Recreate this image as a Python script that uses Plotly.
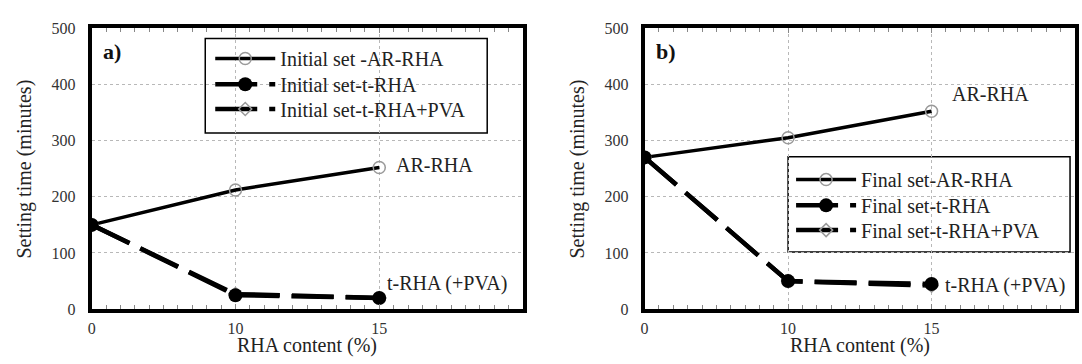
import plotly.graph_objects as go

# ---- data ----
rha_content = ["0", "10", "15"]
initial_ar_rha = [150, 212, 252]
initial_t_rha = [150, 25, 20]
initial_t_rha_pva = [150, 27, 20]
final_ar_rha = [270, 305, 352]
final_t_rha = [270, 50, 45]
final_t_rha_pva = [270, 50, 42]
y_ticks = [0, 100, 200, 300, 400, 500]

xpos = list(range(len(rha_content)))
W, H = 1082, 364
SERIF = "Liberation Serif, Times New Roman, serif"

def px_x(p):
    return p / W

def px_y(p):
    return 1 - p / H

fig = go.Figure()

# legend row centres (pixels) per panel
panels = [
    dict(xa="x", ya="y", legs=("legend", "legend2", "legend3"), leg_x=207, rows=(53, 80, 106),
         names=("Initial set -AR-RHA", "Initial set-t-RHA", "Initial set-t-RHA+PVA"),
         data=(initial_ar_rha, initial_t_rha, initial_t_rha_pva)),
    dict(xa="x2", ya="y2", legs=("legend4", "legend5", "legend6"), leg_x=790, rows=(180, 207, 233),
         names=("Final set-AR-RHA", "Final set-t-RHA", "Final set-t-RHA+PVA"),
         data=(final_ar_rha, final_t_rha, final_t_rha_pva)),
]

leg_font = dict(family=SERIF, size=20, color="#222")
legend_layouts = {}

for p in panels:
    ar, t, pva = p["data"]
    n_ar, n_t, n_pva = p["names"]
    l_ar, l_t, l_pva = p["legs"]
    fig.add_trace(go.Scatter(x=xpos, y=ar, name=n_ar, xaxis=p["xa"], yaxis=p["ya"], legend=l_ar,
                             mode="lines+markers", line=dict(color="black", width=3.5),
                             marker=dict(symbol="circle-open", size=12, color="#9a9a9a", line=dict(width=1.5))))
    fig.add_trace(go.Scatter(x=xpos, y=pva, name=n_pva, xaxis=p["xa"], yaxis=p["ya"], legend=l_pva,
                             mode="lines+markers", line=dict(color="black", width=4.5, dash="42px,12px"),
                             marker=dict(symbol="diamond-open", size=10, color="#9a9a9a", line=dict(width=1.5))))
    fig.add_trace(go.Scatter(x=xpos, y=t, name=n_t, xaxis=p["xa"], yaxis=p["ya"], legend=l_t,
                             mode="lines+markers", line=dict(color="black", width=4.5, dash="42px,12px"),
                             marker=dict(symbol="circle", size=14, color="black")))
    for leg, row in zip(p["legs"], p["rows"]):
        legend_layouts[leg] = dict(x=px_x(p["leg_x"]), y=px_y(row), xanchor="left", yanchor="middle",
                                   bgcolor="rgba(0,0,0,0)", borderwidth=0, itemwidth=60, font=leg_font)

frames = [(88, 521), (643, 1075)]
top, bottom = 21, 316

axis_common_x = dict(
    range=[0, len(rha_content)], tickmode="array", tickvals=xpos, ticktext=rha_content,
    showline=True, linecolor="black", linewidth=4, mirror="allticks",
    ticks="inside", ticklen=5, tickcolor="#888", tickwidth=1,
    minor=dict(dtick=0.1, ticks="inside", ticklen=4, tickcolor="#888", tickwidth=1, showgrid=False),
    showgrid=True, gridcolor="#b8b8b8", griddash="dot", gridwidth=1,
    zeroline=False, tickfont=dict(family=SERIF, size=16, color="#333"), ticklabelstandoff=2,
)
axis_common_y = dict(
    range=[0, 500], tickvals=y_ticks,
    showline=True, linecolor="black", linewidth=4, mirror=True,
    ticks="", showgrid=True, gridcolor="#b8b8b8", griddash="dot", gridwidth=1,
    zeroline=False, tickfont=dict(family=SERIF, size=16, color="#333"), ticklabelstandoff=9,
)

fig.update_layout(
    width=W, height=H, margin=dict(l=0, r=0, t=0, b=0),
    paper_bgcolor="white", plot_bgcolor="white",
    xaxis=dict(domain=[px_x(frames[0][0]), px_x(frames[0][1])], anchor="y", **axis_common_x),
    yaxis=dict(domain=[px_y(bottom), px_y(top)], anchor="x", **axis_common_y),
    xaxis2=dict(domain=[px_x(frames[1][0]), px_x(frames[1][1])], anchor="y2", **axis_common_x),
    yaxis2=dict(domain=[px_y(bottom), px_y(top)], anchor="x2", **axis_common_y),
    showlegend=True,
    **legend_layouts,
)

# legend boxes
fig.add_shape(type="rect", xref="paper", yref="paper", x0=px_x(202), x1=px_x(485), y0=px_y(131), y1=px_y(32),
              line=dict(color="black", width=1.5), fillcolor="white", layer="between")
fig.add_shape(type="rect", xref="paper", yref="paper", x0=px_x(787), x1=px_x(1070), y0=px_y(256), y1=px_y(156),
              line=dict(color="black", width=1.5), fillcolor="white", layer="between")

ann_font = dict(family=SERIF, size=20, color="#222")
def paper_text(text, x, y, font, angle=0):
    fig.add_annotation(text=text, x=px_x(x), y=px_y(y), xref="paper", yref="paper", xanchor="center",
                       yanchor="middle", textangle=angle, showarrow=False, font=font)

paper_text("<b>a)</b>", 108, 46, dict(family=SERIF, size=22, color="#111"))
paper_text("<b>b)</b>", 664, 46, dict(family=SERIF, size=22, color="#111"))
fig.add_annotation(text="AR-RHA", x=2.1, y=257, xref="x", yref="y", xanchor="left", yanchor="middle",
                   showarrow=False, font=ann_font)
fig.add_annotation(text="t-RHA (+PVA)", x=2.04, y=45, xref="x", yref="y", xanchor="left", yanchor="middle",
                   showarrow=False, font=ann_font)
fig.add_annotation(text="AR-RHA", x=2.13, y=382, xref="x2", yref="y2", xanchor="left", yanchor="middle",
                   showarrow=False, font=ann_font)
fig.add_annotation(text="t-RHA (+PVA)", x=2.08, y=42, xref="x2", yref="y2", xanchor="left", yanchor="middle",
                   showarrow=False, font=ann_font)
title_font = dict(family=SERIF, size=20, color="#222")
for cx, ycx in [((88 + 521) / 2, 21), ((643 + 1075) / 2, 576)]:
    paper_text("RHA content (%)", cx, 354, title_font)
    paper_text("Setting time (minutes)", ycx, (top + bottom) / 2, title_font, angle=-90)

fig.write_html("out.html", config={"displayModeBar": False},
               post_script="document.body.style.margin='0';")
